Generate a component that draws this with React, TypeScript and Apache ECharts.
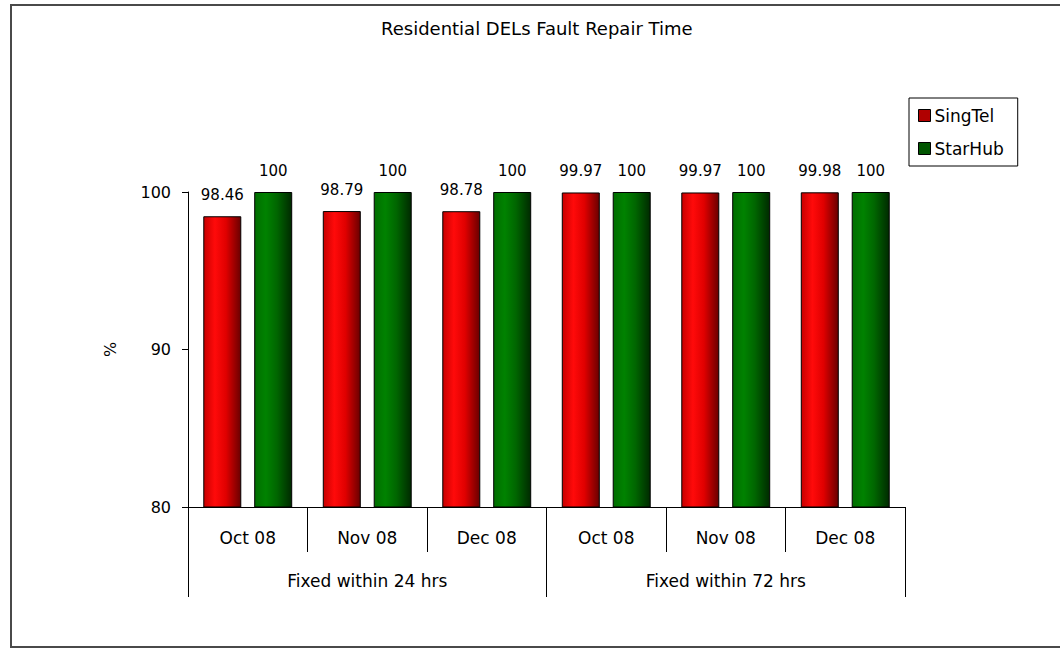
import React, { useEffect, useRef } from "react";
import * as echarts from "echarts";

const categories = ["Oct 08", "Nov 08", "Dec 08", "Oct 08", "Nov 08", "Dec 08"];
const groups = ["Fixed within 24 hrs", "Fixed within 72 hrs"];
const singtel = [98.46, 98.79, 98.78, 99.97, 99.97, 99.98];
const starhub = [100, 100, 100, 100, 100, 100];
const yTicks = { min: 80, max: 100, interval: 10 };
const FONT = "DejaVu Sans";

export default function App() {
  const ref = useRef<HTMLDivElement>(null);
  useEffect(() => {
    if (!ref.current) return;
    const chart = echarts.init(ref.current, null, { renderer: "svg" });
    const redGrad = new echarts.graphic.LinearGradient(0, 0, 1, 0, [
      { offset: 0, color: "#c80000" },
      { offset: 0.3, color: "#ff0a0a" },
      { offset: 0.6, color: "#e00000" },
      { offset: 1, color: "#6a0000" },
    ]);
    const greenGrad = new echarts.graphic.LinearGradient(0, 0, 1, 0, [
      { offset: 0, color: "#006e00" },
      { offset: 0.3, color: "#008200" },
      { offset: 0.6, color: "#006600" },
      { offset: 1, color: "#002a00" },
    ]);
    const labelStyle = {
      show: true,
      position: "top" as const,
      distance: 14,
      color: "#000",
      fontFamily: FONT,
      fontSize: 15,
    };
    chart.setOption({
      animation: false,
      backgroundColor: "#fff",
      textStyle: { fontFamily: FONT },
      title: {
        text: "Residential DELs Fault Repair Time",
        left: 376,
        top: 14,
        textStyle: { fontFamily: FONT, fontSize: 18, fontWeight: "normal", color: "#000" },
      },
      legend: {
        orient: "vertical",
        left: 909,
        top: 98,
        padding: [9, 14, 9, 9],
        itemWidth: 12,
        itemHeight: 12,
        itemGap: 16,
        icon: "rect",
        borderColor: "#000",
        borderWidth: 1,
        textStyle: { fontFamily: FONT, fontSize: 17, color: "#000", padding: [0, 0, 0, -1] },
        data: [
          { name: "SingTel", itemStyle: { color: "#b00000", borderColor: "#000", borderWidth: 1 } },
          { name: "StarHub", itemStyle: { color: "#005500", borderColor: "#000", borderWidth: 1 } },
        ],
      },
      graphic: [
        {
          type: "rect",
          shape: { x: 11, y: 5, width: 1100, height: 642 },
          style: { fill: "none", stroke: "#4a4a4a", lineWidth: 2 },
          silent: true,
        },
      ],
      grid: { left: 188, right: 155, top: 192, bottom: 142, containLabel: false },
      xAxis: [
        {
          type: "category",
          data: categories,
          axisLine: { lineStyle: { color: "#000", width: 1 } },
          axisTick: { show: true, interval: 0, length: 45, lineStyle: { color: "#000" } },
          axisLabel: { interval: 0, margin: 22, color: "#000", fontFamily: FONT, fontSize: 17 },
        },
        {
          type: "category",
          data: groups,
          position: "bottom",
          axisLine: { show: false },
          axisTick: { show: true, interval: 0, length: 90, lineStyle: { color: "#000" } },
          axisLabel: { interval: 0, margin: 65, color: "#000", fontFamily: FONT, fontSize: 17 },
        },
      ],
      yAxis: {
        type: "value",
        min: yTicks.min,
        max: yTicks.max,
        interval: yTicks.interval,
        name: "%",
        nameLocation: "middle",
        nameRotate: 90,
        nameGap: 70,
        nameTextStyle: { fontFamily: FONT, fontSize: 16, color: "#000" },
        axisLine: { show: true, lineStyle: { color: "#000" } },
        axisTick: { show: true, length: 6, lineStyle: { color: "#000" } },
        axisLabel: { margin: 17, color: "#000", fontFamily: FONT, fontSize: 16 },
        splitLine: { show: false },
      },
      series: [
        {
          name: "SingTel",
          type: "bar",
          data: singtel,
          barWidth: 38,
          barGap: "34%",
          itemStyle: { color: redGrad, borderColor: "#000", borderWidth: 1 },
          label: labelStyle,
        },
        {
          name: "StarHub",
          type: "bar",
          data: starhub,
          barWidth: 38,
          itemStyle: { color: greenGrad, borderColor: "#000", borderWidth: 1 },
          label: labelStyle,
        },
      ],
    });
    return () => chart.dispose();
  }, []);
  return (
    <div
      ref={ref}
      style={{ position: "absolute", left: 0, top: 0, width: 1060, height: 649 }}
    />
  );
}
